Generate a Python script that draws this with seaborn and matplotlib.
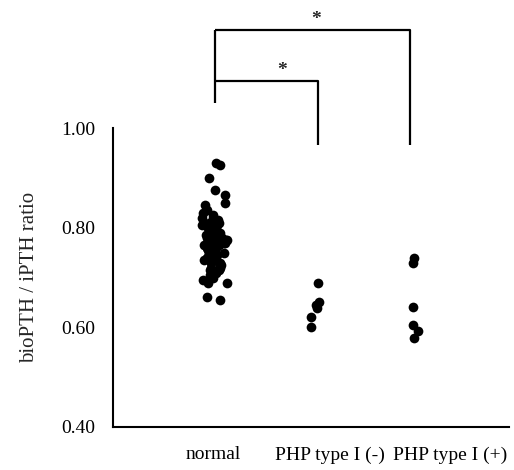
import matplotlib
matplotlib.use("Agg")
import matplotlib.pyplot as plt
from matplotlib.transforms import ScaledTranslation
import numpy as np
import pandas as pd
import seaborn as sns

# values
groups = ["normal", "PHP type I (-)", "PHP type I (+)"]
normal = [0.93, 0.925, 0.90, 0.875, 0.865, 0.85, 0.845, 0.835, 0.83, 0.825,
          0.82, 0.82, 0.815, 0.81, 0.81, 0.805, 0.805, 0.80, 0.80, 0.795,
          0.795, 0.79, 0.79, 0.785, 0.785, 0.78, 0.78, 0.78, 0.775, 0.775,
          0.775, 0.77, 0.77, 0.77, 0.765, 0.765, 0.765, 0.76, 0.76, 0.76,
          0.755, 0.755, 0.755, 0.75, 0.75, 0.75, 0.745, 0.745, 0.745, 0.74,
          0.74, 0.74, 0.735, 0.735, 0.735, 0.73, 0.73, 0.725, 0.725, 0.72,
          0.72, 0.715, 0.715, 0.71, 0.705, 0.70, 0.695, 0.69, 0.69, 0.66,
          0.655]
php_neg = [0.69, 0.65, 0.645, 0.638, 0.62, 0.60]
php_pos = [0.74, 0.73, 0.64, 0.604, 0.592, 0.578]
yticks = [0.40, 0.60, 0.80, 1.00]

df = pd.DataFrame({
    "group": [groups[0]] * len(normal) + [groups[1]] * len(php_neg) + [groups[2]] * len(php_pos),
    "ratio": normal + php_neg + php_pos,
})

sns.set_theme(style="white")
plt.rcParams["font.family"] = ["Liberation Serif", "DejaVu Serif"]

np.random.seed(3)
fig = plt.figure(figsize=(5.14, 4.70), dpi=100)
ax = fig.add_axes([0.22, 0.0915, 0.77, 0.636])
sns.stripplot(data=df[df["group"] == groups[0]], x="group", y="ratio", order=groups,
              color="black", size=7, jitter=0.13, linewidth=0, ax=ax)
sns.stripplot(data=df[df["group"] != groups[0]], x="group", y="ratio", order=groups,
              color="black", size=7, jitter=0.06, linewidth=0, ax=ax)

ax.set_xlim(-1.0, 2.9)
ax.set_ylim(0.40, 1.00)
ax.set_yticks(yticks)
ax.set_yticklabels([f"{t:.2f}" for t in yticks], fontsize=14)
ax.set_xticks(range(len(groups)))
ax.set_xticklabels(groups, fontsize=14)
ax.set_xlabel("")
ax.set_ylabel("bioPTH / iPTH ratio", fontsize=15, labelpad=16)
ax.tick_params(axis="both", direction="in", length=4, width=1.2, colors="black")
ax.tick_params(axis="y", pad=13)
ax.tick_params(axis="x", pad=14)
# labels in the reference sit to the right of their ticks
for lab, dx in zip(ax.get_xticklabels(), [-1, 14, 33]):
    lab.set_transform(lab.get_transform() + ScaledTranslation(dx / 100, 0, fig.dpi_scale_trans))
sns.despine(ax=ax)
for side in ["left", "bottom"]:
    ax.spines[side].set_color("black")
    ax.spines[side].set_linewidth(1.5)

# significance brackets
kw = dict(color="black", linewidth=1.6, clip_on=False, solid_capstyle="butt")
ax.plot([0, 0], [1.05, 1.196], **kw)
ax.plot([0, 1.93, 1.93], [1.196, 1.196, 0.966], **kw)
ax.plot([0, 1.02, 1.02], [1.094, 1.094, 0.966], **kw)
ax.text(0.67, 1.115, "*", ha="center", va="center", fontsize=14, fontweight="bold")
ax.text(1.0, 1.218, "*", ha="center", va="center", fontsize=14, fontweight="bold")

fig.savefig("out.png", dpi=100)
